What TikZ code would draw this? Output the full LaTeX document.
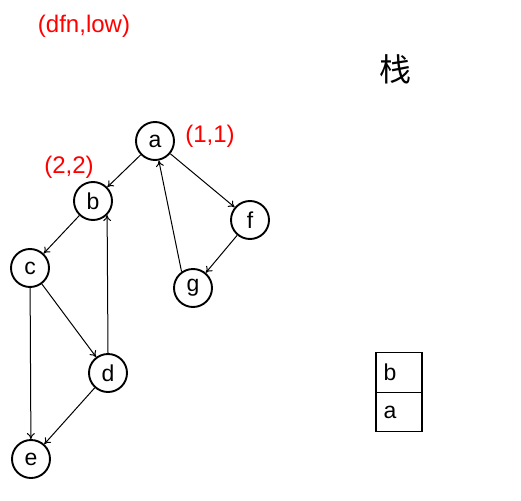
\documentclass[tikz,border=0pt]{standalone}
\usepackage{fontspec}
\setmainfont{Liberation Sans}
\newfontfamily\cjk{Noto Sans CJK SC}
\usetikzlibrary{arrows.meta}
\begin{document}
\begin{tikzpicture}[x=1pt,y=-1pt,
  vert/.style={circle,draw,line width=1.9pt,minimum size=38pt,inner sep=0pt,font=\fontsize{23}{26}\selectfont},
  edge/.style={-{To[length=6pt,width=8pt]},line width=1pt},
  lbl/.style={text=red,font=\fontsize{24}{28}\selectfont},
  cell/.style={draw,line width=1.3pt,minimum width=46pt,minimum height=39.5pt,inner sep=0pt},
  celltext/.style={anchor=west,inner sep=8pt,font=\fontsize{23}{26}\selectfont}]
\useasboundingbox (0,0) rectangle (521,500);
\node (a) [vert] at (155,141) {a};
\node (b) [vert] at (93,201) {b};
\node (c) [vert] at (30,268) {c};
\node (d) [vert] at (108,373) {d};
\node (e) [vert] at (31,459) {e};
\node (f) [vert] at (250,220) {f};
\node (g) [vert] at (193,288) {g};
\draw[edge] (a) -- (b);
\draw[edge] (a) -- (f);
\draw[edge] (f) -- (g);
\draw[edge] (g.125) -- (a.-79);
\draw[edge] (b) -- (c);
\draw[edge] (c) -- (d);
\draw[edge] (c) -- (e);
\draw[edge] (d) -- (e);
\draw[edge] (d.north) -- (b.-45);
\node (l0) [lbl] at (84,26) {(dfn,low)};
\node (l1) [lbl] at (210,136) {(1,1)};
\node (l2) [lbl] at (69,167) {(2,2)};
\node (st) at (395,69) {\cjk\fontsize{32}{36}\selectfont 栈};
\node (sb) [cell] at (399,372.5) {};
\node (sa) [cell] at (399,412) {};
\node (tb) [celltext] at (sb.west) {b};
\node (ta) [celltext] at (sa.west) {a};
\end{tikzpicture}
\end{document}
